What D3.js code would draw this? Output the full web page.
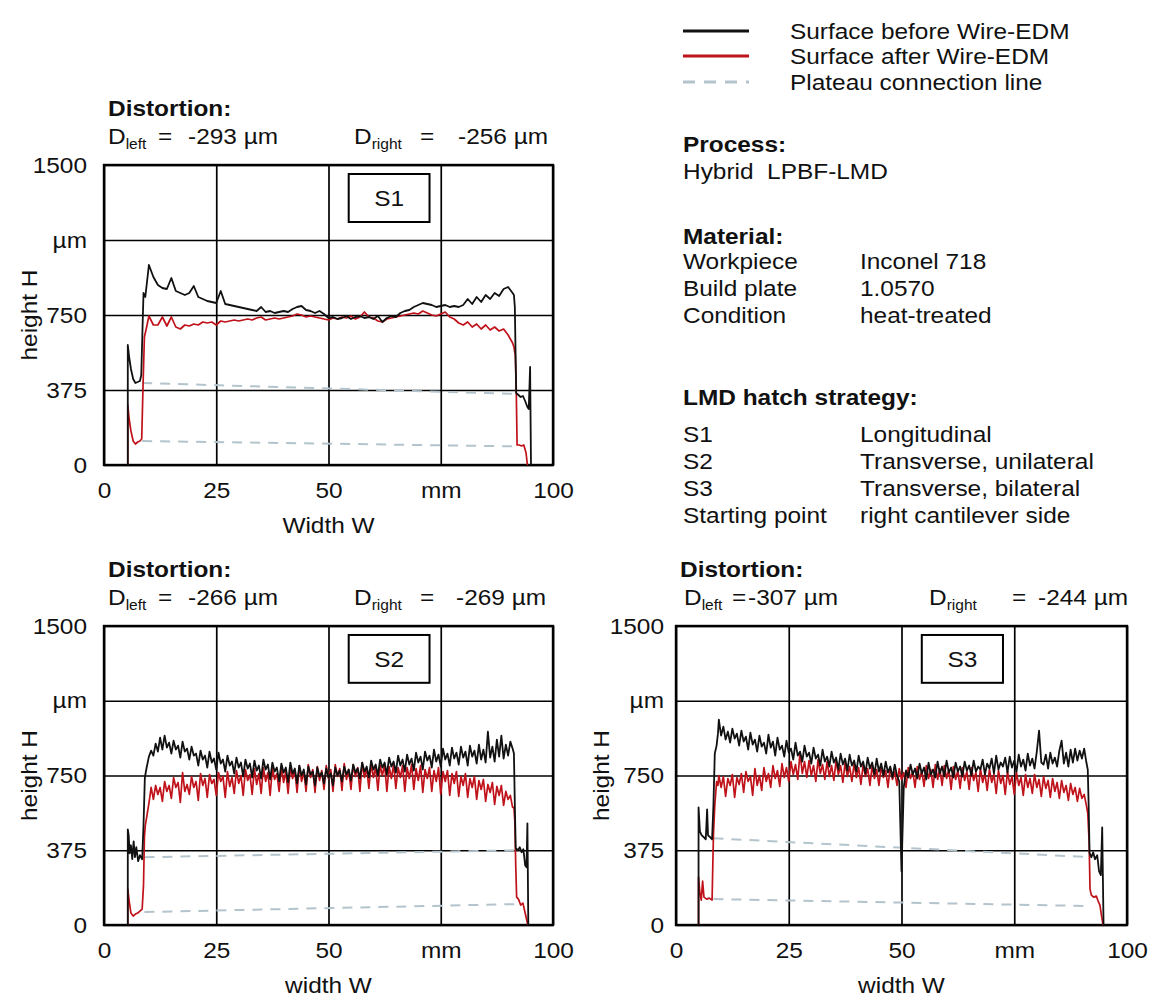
<!DOCTYPE html>
<html>
<head>
<meta charset="utf-8">
<script src="https://cdn.jsdelivr.net/npm/d3@7"></script>
<style>
  body { margin: 0; background: #fff; }
  text { font-family: "Liberation Sans", Arial, sans-serif; fill: #111; }
</style>
</head>
<body>
<script>
/* ------------------------------ Axis ticks ------------------------------ */
const xTicks = [0, 25, 50, 75, 100];
const xTickLabels = ["0", "25", "50", "mm", "100"];
const yTicks = [0, 375, 750, 1125, 1500];
const yTickLabels = ["0", "375", "750", "µm", "1500"];

/* ------------------------------ Chart texts ----------------------------- */
const specimens = ["S1", "S2", "S3"];
const dLeft = [-293, -266, -307];
const dRight = [-256, -269, -244];
const xTitles = ["Width W", "width W", "width W"];

/* --------------- Profiles: [W mm, H µm] edges + sampled middle --------------- */
// S1 (middle sampled from 10 mm, every 1 mm)
const s1BeforeLeft = [[5.3,0],[5.3,600],[5.6,540],[6.0,480],[6.5,430],[7.0,410],[7.5,415],[8.0,420],[8.3,450],[8.6,700],[8.8,860],[9.2,840],[9.5,900]];
const s1BeforeMid = [
  1000, 940, 900, 885, 880, 935, 870, 860, 850, 860,
  895, 840, 830, 820, 815, 810, 870, 805, 800, 795,
  790, 785, 780, 775, 770, 790, 765, 770, 760, 765,
  770, 765, 780, 790, 795, 775, 770, 760, 770, 755,
  735, 740, 730, 735, 745, 730, 740, 745, 735, 740,
  730, 745, 715, 735, 745, 740, 760, 770, 775, 790,
  800, 810, 805, 800, 790, 795, 800, 790, 795, 790,
  800, 830, 805, 840, 815, 850, 830, 860, 845, 880,
  890, 860];
const s1BeforeRight = [[91.3,850],[91.5,790],[91.8,360],[92.3,350],[92.8,340],[93.3,345],[93.8,320],[94.3,290],[94.6,280],[94.9,490],[95.1,0]];
const s1AfterLeft = [[5.3,0],[5.3,300],[5.6,230],[6.0,170],[6.5,120],[7.0,105],[7.5,115],[8.0,120],[8.4,130],[8.7,400],[9.0,640],[9.5,690]];
const s1AfterMid = [
  745, 700, 700, 740, 695, 740, 690, 680, 700, 695,
  705, 700, 715, 710, 715, 700, 720, 715, 720, 725,
  720, 725, 730, 725, 735, 740, 725, 730, 735, 730,
  735, 740, 745, 755, 750, 740, 745, 740, 735, 730,
  725, 735, 730, 740, 735, 745, 730, 740, 765, 740,
  735, 720, 715, 730, 735, 740, 745, 750, 755, 760,
  755, 770, 760, 750, 745, 755, 765, 740, 730, 710,
  700, 715, 690, 705, 680, 700, 675, 690, 670, 680,
  650, 610];
const s1AfterRight = [[91.3,590],[91.6,550],[91.8,400],[92.0,100],[92.5,100],[93.0,95],[93.5,100],[94.0,60],[94.3,0]];
const s1PlateauUpper = [[8.5,410],[92,355]];
const s1PlateauLower = [[8.5,120],[92,93]];

// S2 (middle sampled from 9.5 mm, every 0.5 mm)
const s2BeforeLeft = [[5.3,0],[5.3,480],[5.5,450],[5.7,360],[6.0,400],[6.3,330],[6.6,420],[6.9,340],[7.2,390],[7.6,320],[8.0,350],[8.5,330],[8.8,500],[9.1,740]];
const s2BeforeMid = [
  790, 845, 875, 850, 910, 870, 940, 880, 950, 890,
  915, 860, 925, 880, 900, 840, 920, 870, 885, 830,
  895, 850, 860, 800, 875, 830, 850, 790, 870, 815,
  835, 780, 865, 810, 830, 770, 850, 800, 820, 760,
  840, 790, 815, 745, 830, 785, 810, 740, 825, 775,
  800, 735, 830, 780, 805, 730, 815, 770, 790, 720,
  810, 765, 790, 715, 815, 760, 785, 710, 800, 750,
  780, 705, 795, 755, 770, 700, 790, 745, 765, 710,
  785, 740, 760, 700, 790, 750, 775, 720, 795, 755,
  780, 725, 805, 765, 785, 735, 815, 770, 795, 740,
  825, 780, 805, 750, 830, 790, 815, 755, 840, 795,
  820, 765, 850, 800, 830, 770, 855, 805, 835, 775,
  865, 815, 845, 780, 870, 825, 850, 790, 880, 820,
  855, 795, 885, 830, 860, 800, 890, 835, 865, 805,
  895, 840, 870, 800, 900, 845, 875, 810, 905, 830,
  880, 815, 970, 840, 895, 820, 930, 845, 950, 835,
  905, 850, 920, 885];
const s2BeforeRight = [[91.3,860],[91.5,600],[91.7,385],[92.2,375],[92.6,390],[93.0,365],[93.4,380],[93.8,300],[94.1,290],[94.3,510],[94.5,0]];
const s2AfterLeft = [[5.3,0],[5.3,180],[5.6,120],[6.0,60],[6.5,45],[7.0,55],[7.5,60],[8.0,70],[8.5,80],[8.8,200],[9.0,440],[9.2,500]];
const s2AfterMid = [
  540, 610, 690, 630, 700, 655, 690, 620, 720, 670,
  700, 635, 740, 690, 715, 615, 765, 670, 705, 655,
  745, 690, 720, 625, 760, 700, 735, 640, 755, 710,
  730, 650, 765, 720, 745, 640, 770, 695, 740, 660,
  775, 710, 750, 650, 780, 725, 755, 655, 785, 705,
  760, 660, 790, 720, 765, 650, 785, 730, 760, 670,
  795, 715, 770, 660, 790, 735, 775, 665, 800, 720,
  770, 670, 805, 740, 780, 665, 795, 725, 775, 680,
  800, 735, 780, 670, 805, 745, 785, 675, 810, 730,
  780, 680, 805, 745, 790, 670, 815, 740, 785, 685,
  810, 740, 790, 675, 800, 750, 805, 670, 795, 735,
  805, 685, 790, 740, 800, 670, 790, 735, 805, 680,
  785, 725, 800, 665, 780, 735, 790, 670, 775, 720,
  790, 655, 770, 720, 775, 650, 760, 710, 770, 645,
  745, 700, 760, 640, 735, 690, 745, 630, 725, 680,
  730, 620, 705, 665, 715, 605, 695, 650, 700, 600,
  670, 630, 650, 590];
const s2AfterRight = [[91.3,590],[91.5,520],[91.7,300],[91.9,140],[92.3,130],[92.8,100],[93.3,110],[93.8,60],[94.2,20],[94.4,0]];
const s2PlateauUpper = [[9,340],[92,375]];
const s2PlateauLower = [[9,65],[92,105]];

// S3 (middle sampled from 9.5 mm, every 0.5 mm)
const s3BeforeLeft = [[5.0,0],[5.0,590],[5.3,470],[5.7,450],[6.2,440],[6.6,430],[6.9,580],[7.1,450],[7.6,440],[8.0,430],[8.3,600],[8.6,860],[9.0,900],[9.3,960]];
const s3BeforeMid = [
  1030, 950, 995, 930, 970, 915, 985, 935, 960, 900,
  975, 920, 945, 880, 965, 905, 930, 870, 950, 895,
  915, 860, 955, 890, 920, 850, 940, 880, 900, 845,
  925, 865, 885, 830, 915, 850, 870, 820, 900, 845,
  865, 810, 890, 835, 855, 800, 880, 820, 845, 795,
  870, 815, 840, 780, 860, 805, 835, 775, 855, 800,
  825, 770, 850, 795, 820, 760, 840, 785, 815, 755,
  835, 770, 810, 750, 820, 765, 795, 740, 805, 750,
  720, 270, 690, 775, 740, 805, 755, 785, 735, 810,
  760, 790, 730, 815, 755, 780, 740, 820, 760, 795,
  745, 825, 765, 790, 740, 815, 770, 795, 745, 820,
  775, 800, 750, 825, 770, 795, 780, 830, 755, 810,
  785, 835, 760, 850, 780, 815, 795, 840, 765, 845,
  790, 825, 770, 855, 795, 830, 775, 860, 800, 835,
  785, 870, 975, 815, 805, 855, 785, 865, 810, 840,
  795, 875, 925, 810, 865, 795, 880, 815, 885, 825,
  875, 835, 885, 815];
const s3BeforeRight = [[91.3,780],[91.5,600],[91.7,360],[92.1,340],[92.5,365],[92.9,330],[93.4,350],[93.8,270],[94.2,250],[94.5,490],[94.8,0]];
const s3AfterLeft = [[5.0,0],[5.0,240],[5.3,160],[5.6,125],[5.9,220],[6.2,140],[6.8,130],[7.4,135],[8.0,125],[8.3,450],[8.6,600],[9.0,720],[9.3,700]];
const s3AfterMid = [
  750, 690, 745, 645, 735, 700, 755, 640, 740, 705,
  760, 665, 770, 720, 745, 650, 785, 700, 750, 675,
  790, 720, 760, 690, 800, 735, 775, 695, 810, 740,
  790, 720, 820, 755, 805, 730, 865, 760, 820, 740,
  825, 750, 800, 720, 830, 760, 805, 730, 820, 745,
  800, 725, 825, 755, 800, 715, 815, 745, 795, 720,
  810, 740, 790, 705, 805, 745, 785, 700, 800, 735,
  780, 700, 795, 740, 775, 690, 790, 730, 770, 700,
  785, 730, 765, 690, 790, 735, 770, 690, 795, 730,
  775, 695, 800, 735, 780, 690, 805, 730, 785, 700,
  800, 735, 780, 680, 795, 730, 775, 685, 790, 725,
  770, 680, 790, 725, 765, 670, 785, 715, 760, 675,
  780, 715, 755, 660, 775, 710, 750, 655, 770, 705,
  745, 655, 765, 700, 740, 650, 755, 690, 735, 660,
  755, 690, 730, 645, 745, 685, 725, 640, 735, 670,
  715, 635, 725, 665, 700, 625, 710, 655, 690, 620,
  685, 635, 655, 600];
const s3AfterRight = [[91.3,560],[91.6,420],[91.8,180],[92.1,150],[92.6,140],[93.2,145],[93.6,120],[94.0,100],[94.4,40],[94.7,0]];
const s3PlateauUpper = [[8.3,435],[92,340]];
const s3PlateauLower = [[8.3,130],[92,95]];

// sampling of the middle sections
const midStart = [10, 9.5, 9.5];
const midStep = [1, 0.5, 0.5];

/* -------------------------------- Layout -------------------------------- */
const fontSize = 22;
const stretch = 1.11; //reference glyphs are a bit wider than Liberation Sans
const colBefore = "#111111";
const colAfter = "#c0121a";
const colPlateau = "#b3c4cd";

const panels = [
  { x0: 104, x1: 553, y0: 165, y1: 465, yPad: 17, dl: [4, 54, 84], dr: [250, 316, 354] },
  { x0: 104, x1: 553, y0: 626, y1: 925, yPad: 17, dl: [4, 54, 84], dr: [250, 316, 352] },
  { x0: 676, x1: 1127, y0: 626, y1: 925, yPad: 12, dl: [8, 56, 72], dr: [253, 336, 362] }
];

const svg = d3.select("body").append("svg")
  .attr("width", 1151)
  .attr("height", 1003)
  .style("display", "block");

//join edges and sampled middle into one [W, H] list
const profile = (left, mid, start, step, right) =>
  left.concat(mid.map((h, i) => [start + i * step, h])).concat(right);

const series = [
  {
    before: profile(s1BeforeLeft, s1BeforeMid, midStart[0], midStep[0], s1BeforeRight),
    after: profile(s1AfterLeft, s1AfterMid, midStart[0], midStep[0], s1AfterRight),
    plateau: [s1PlateauUpper, s1PlateauLower]
  },
  {
    before: profile(s2BeforeLeft, s2BeforeMid, midStart[1], midStep[1], s2BeforeRight),
    after: profile(s2AfterLeft, s2AfterMid, midStart[1], midStep[1], s2AfterRight),
    plateau: [s2PlateauUpper, s2PlateauLower]
  },
  {
    before: profile(s3BeforeLeft, s3BeforeMid, midStart[2], midStep[2], s3BeforeRight),
    after: profile(s3AfterLeft, s3AfterMid, midStart[2], midStep[2], s3AfterRight),
    plateau: [s3PlateauUpper, s3PlateauLower]
  }
];

function addText(g, x, y, str, opts = {}) {
  return g.append("text")
    .attr("transform", `translate(${x},${y}) scale(${stretch},1)`)
    .attr("font-size", opts.size || fontSize)
    .attr("font-weight", opts.bold ? "bold" : null)
    .attr("text-anchor", opts.anchor || "start")
    .text(str);
}

/* ------------------------------ Draw panels ----------------------------- */
panels.forEach((p, k) => {
  const g = svg.append("g");
  const x = d3.scaleLinear().domain([0, 100]).range([p.x0, p.x1]);
  const y = d3.scaleLinear().domain([0, 1500]).range([p.y1, p.y0]);
  const w = p.x1 - p.x0;
  const h = p.y1 - p.y0;

  //grid + tick labels
  const xAxis = g.append("g")
    .attr("transform", `translate(0,${p.y1})`)
    .call(d3.axisBottom(x).tickValues(xTicks).tickFormat((d, i) => xTickLabels[i]).tickSize(-h).tickPadding(17));
  const yAxis = g.append("g")
    .attr("transform", `translate(${p.x0},0)`)
    .call(d3.axisLeft(y).tickValues(yTicks).tickFormat((d, i) => yTickLabels[i]).tickSize(-w).tickPadding(p.yPad));
  [xAxis, yAxis].forEach(a => {
    a.select(".domain").remove();
    a.selectAll("line").attr("stroke", "#000").attr("stroke-width", 1.7);
    a.selectAll("text")
      .attr("font-size", fontSize)
      .attr("font-family", "'Liberation Sans', Arial, sans-serif")
      .attr("fill", "#111")
      .attr("transform", `scale(${stretch},1)`);
  });
  yAxis.selectAll("text").attr("x", -p.yPad / stretch);

  //frame
  g.append("rect")
    .attr("x", p.x0).attr("y", p.y0)
    .attr("width", w).attr("height", h)
    .attr("fill", "none").attr("stroke", "#000").attr("stroke-width", 2.4);

  const line = d3.line().x(d => x(d[0])).y(d => y(d[1]));
  const s = series[k];

  g.selectAll(".plateau")
    .data(s.plateau)
    .enter().append("path")
    .attr("class", "plateau")
    .attr("d", line)
    .attr("fill", "none")
    .attr("stroke", colPlateau)
    .attr("stroke-width", 2)
    .attr("stroke-dasharray", "10,8");

  g.append("path").attr("d", line(s.after))
    .attr("fill", "none").attr("stroke", colAfter).attr("stroke-width", 1.7)
    .attr("stroke-linejoin", "round");
  g.append("path").attr("d", line(s.before))
    .attr("fill", "none").attr("stroke", colBefore).attr("stroke-width", 1.8)
    .attr("stroke-linejoin", "round");

  //specimen box
  g.append("rect")
    .attr("x", x(54.5)).attr("y", y(1455))
    .attr("width", x(72.5) - x(54.5)).attr("height", y(1215) - y(1455))
    .attr("fill", "#fff").attr("stroke", "#000").attr("stroke-width", 2);
  addText(g, (x(54.5) + x(72.5)) / 2, (y(1455) + y(1215)) / 2 + 8, specimens[k], { anchor: "middle" });

  //axis titles
  addText(g, (p.x0 + p.x1) / 2, p.y1 + 68, xTitles[k], { anchor: "middle" });
  g.append("text")
    .attr("transform", `translate(${p.x0 - 67},${(p.y0 + p.y1) / 2}) rotate(-90) scale(${stretch},1)`)
    .attr("font-size", fontSize)
    .attr("text-anchor", "middle")
    .text("height H");

  //distortion header
  addText(g, p.x0 + 4, p.y0 - 49, "Distortion:", { bold: true });
  const dl = addText(g, p.x0 + p.dl[0], p.y0 - 21, "D");
  dl.append("tspan").attr("font-size", 14).attr("dy", 5).text("left");
  addText(g, p.x0 + p.dl[1], p.y0 - 21, "=");
  addText(g, p.x0 + p.dl[2], p.y0 - 21, dLeft[k] + " µm");
  const dr = addText(g, p.x0 + p.dr[0], p.y0 - 21, "D");
  dr.append("tspan").attr("font-size", 14).attr("dy", 5).text("right");
  addText(g, p.x0 + p.dr[1], p.y0 - 21, "=");
  addText(g, p.x0 + p.dr[2], p.y0 - 21, dRight[k] + " µm");
});

/* -------------------------------- Legend -------------------------------- */
const legendItems = ["Surface before Wire-EDM", "Surface after Wire-EDM", "Plateau connection line"];
const legendColors = [colBefore, colAfter, colPlateau];
const legendY = [31, 56, 82];
const legend = svg.append("g");
legendItems.forEach((t, i) => {
  legend.append("line")
    .attr("x1", 683).attr("x2", 749)
    .attr("y1", legendY[i]).attr("y2", legendY[i])
    .attr("stroke", legendColors[i])
    .attr("stroke-width", 3)
    .attr("stroke-dasharray", i === 2 ? "12,9" : null);
  addText(legend, 790, legendY[i] + 8, t);
});

/* ------------------------------ Info block ------------------------------ */
const infoRows = [
  { y: 152, a: "Process:", bold: true },
  { y: 179, a: "Hybrid  LPBF-LMD" },
  { y: 244, a: "Material:", bold: true },
  { y: 269, a: "Workpiece", b: "Inconel 718" },
  { y: 296, a: "Build plate", b: "1.0570" },
  { y: 323, a: "Condition", b: "heat-treated" },
  { y: 405, a: "LMD hatch strategy:", bold: true },
  { y: 442, a: "S1", b: "Longitudinal" },
  { y: 469, a: "S2", b: "Transverse, unilateral" },
  { y: 496, a: "S3", b: "Transverse, bilateral" },
  { y: 523, a: "Starting point", b: "right cantilever side" }
];
const info = svg.append("g");
infoRows.forEach(r => {
  addText(info, 683, r.y, r.a, { bold: r.bold }).style("white-space", "pre");
  if (r.b) addText(info, 860, r.y, r.b);
});
</script>
</body>
</html>
